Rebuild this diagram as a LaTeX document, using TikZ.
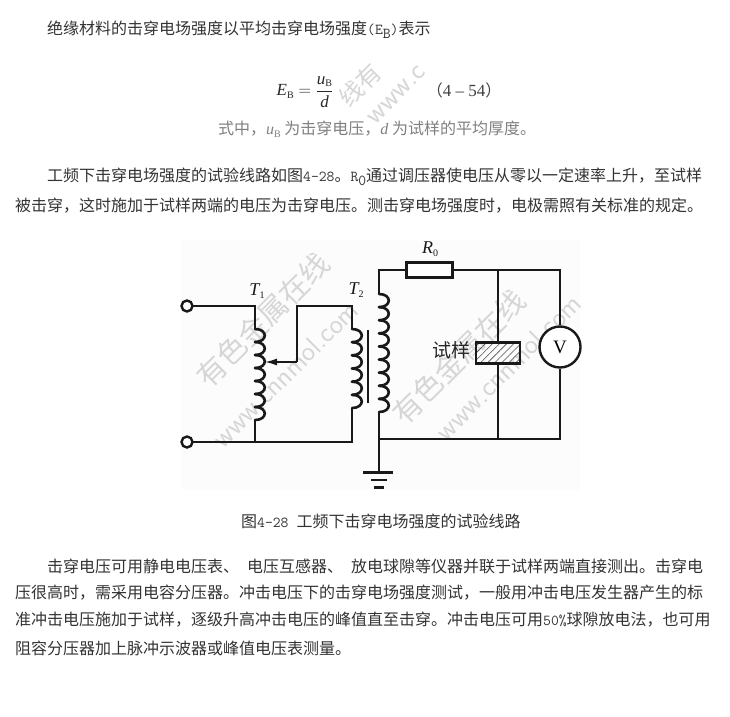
\documentclass[tikz,border=0pt]{standalone}
\usepackage[no-math]{fontspec}
\setmainfont{Noto Sans CJK SC}
\newfontfamily\serfont{Liberation Serif}
\usepackage{amsmath}
\usetikzlibrary{arrows.meta,patterns.meta}
\newcommand{\lat}[1]{{\fontsize{15.2}{18}\selectfont\ttfamily #1}}
\newcommand{\latsub}[1]{\raisebox{-4pt}{\lat{#1}}}
\newcommand{\ital}[1]{\mbox{\serfont\itshape #1}}
\newcommand{\ersub}[1]{\raisebox{-2.5pt}{\fontsize{10}{10}\selectfont\serfont\upshape #1}}
\begin{document}
\begin{tikzpicture}[
		x=1pt, y=-1pt,
		txt/.style={
				anchor=west,
				inner sep=0pt,
				text=black!80,
				font=\fontsize{16}{18}\selectfont,
			},
		faint/.style={
				txt,
				text=black!50,
			},
		mark/.style={
				inner sep=0pt,
				text=black!16,
				font=\fontsize{#1}{#1}\selectfont,
			},
		wire/.style={
				line width=1.6pt,
				black!90,
				line join=miter,
			},
		coilline/.style={
				line width=2.6pt,
				black!90,
				line cap=round,
			},
		bar/.style={
				line width=2.6pt,
				black!90,
			},
		termin/.style={
				circle,
				draw=black!90,
				line width=2.4pt,
				fill=white,
				inner sep=0pt,
				minimum size=11pt,
				outer sep=0pt,
			},
		lab/.style={
				inner sep=0pt,
				text=black!90,
				font=\fontsize{18}{18}\selectfont\serfont\itshape,
			},
	]
	\useasboundingbox (0,0) rectangle (730,716);
	\fill[white] (0,0) rectangle (730,716);
	\fill[black!1] (182,240) rectangle (580,490);

	\node[mark=29, rotate=45] (markA) at (263,320) {有色金属在线};
	\node[mark=28, rotate=45] (markB) at (285,374) {\sffamily www.cnnmol.com};
	\node[mark=29, rotate=45] (markC) at (459,357) {有色金属在线};
	\node[mark=28, rotate=45] (markD) at (508,367) {\sffamily www.cnnmol.com};
	\node[mark=24, rotate=45] (markE) at (360,85) {线有};
	\node[mark=28, rotate=45] (markF) at (397,95) {\sffamily www.c};

	\node[txt] (lineA) at (47,30) {绝缘材料的击穿电场强度以平均击穿电场强度\lat{(E}\latsub{B}\lat{)}表示};
	\node[inner sep=0pt, text=black!85] (formula) at (305,92) {\fontsize{17}{18}\selectfont$\displaystyle \ital{E}\ersub{B}=\frac{\ital{u}\ersub{B}}{\ital{d}}$};
	\node[inner sep=0pt, text=black!75, font=\fontsize{16}{18}\selectfont] (number) at (464,90) {（{\serfont\fontsize{17}{18}\selectfont 4 – 54}）};
	\node[faint] (where) at (218,129) {式中，\ital{u}\ersub{B} 为击穿电压，\ital{d} 为试样的平均厚度。};
	\node[txt] (lineB) at (47,177) {工频下击穿电场强度的试验线路如图\lat{4-28}。\lat{R}\latsub{0}通过调压器使电压从零以一定速率上升，至试样};
	\node[txt] (lineC) at (15,206) {被击穿，这时施加于试样两端的电压为击穿电压。测击穿电场强度时，电极需照有关标准的规定。};
	\node[txt] (caption) at (241,521) {图\lat{4-28}\hspace{8pt}工频下击穿电场强度的试验线路};
	\node[txt] (lineD) at (47,566) {击穿电压可用静电电压表、\hspace{8pt}电压互感器、\hspace{8pt}放电球隙等仪器并联于试样两端直接测出。击穿电};
	\node[txt] (lineE) at (15,593) {压很高时，需采用电容分压器。冲击电压下的击穿电场强度测试，一般用冲击电压发生器产生的标};
	\node[txt] (lineF) at (15,620) {准冲击电压施加于试样，逐级升高冲击电压的峰值直至击穿。冲击电压可用\lat{50\%}球隙放电法，也可用};
	\node[txt] (lineG) at (15,648) {阻容分压器加上脉冲示波器或峰值电压表测量。};

	\node[termin] (inA) at (187,306) {};
	\node[termin] (inB) at (187,442) {};
	\node[lab] (T1) at (257,291) {T\ersub{1}};
	\node[lab] (T2) at (356,290) {T\ersub{2}};
	\node[lab] (R0) at (430,249) {R\ersub{0}};
	\node[draw=black!90, line width=2.4pt, fill=white, minimum width=46pt, minimum height=15pt, inner sep=0pt] (resist) at (429.5,270) {};
	\node[draw=black!90, line width=2.4pt, fill=white, circle, minimum size=41pt, inner sep=0pt, font=\fontsize{19}{19}\selectfont\serfont] (volt) at (560,347) {V};
	\node[draw=black!90, line width=2.4pt, pattern={Lines[angle=45,distance=5pt,line width=.6pt]}, pattern color=black!70, minimum width=44pt, minimum height=21pt, inner sep=0pt] (sample) at (498,353) {};
	\node[inner sep=0pt, text=black!85, font=\fontsize{19}{20}\selectfont] (samplelab) at (451,350) {试样};

	\coordinate (Atop) at (255,306);
	\coordinate (Abot) at (255,442);
	\coordinate (Acoiltop) at (255,329);
	\coordinate (Acoilbot) at (255,420);
	\coordinate (Wtip) at (265,362);
	\coordinate (Wknee) at (297,362);
	\coordinate (Wup) at (297,306);
	\coordinate (Btop) at (352,306);
	\coordinate (Bbot) at (352,442);
	\coordinate (Bcoiltop) at (352,329);
	\coordinate (Bcoilbot) at (352,408);
	\coordinate (Ctop) at (379,270);
	\coordinate (Ccoiltop) at (379,294);
	\coordinate (Ccoilbot) at (379,412);
	\coordinate (Cbot) at (379,439);
	\coordinate (Gnd) at (379,472);
	\coordinate (Stop) at (498,270);
	\coordinate (Sbot) at (498,439);
	\coordinate (Vtop) at (560,270);
	\coordinate (Vbot) at (560,439);

	\draw[wire] (inA) -- (Atop) -- (Acoiltop);
	\draw[wire] (inB) -- (Abot) -- (Bbot) -- (Bcoilbot);
	\draw[wire] (Abot) -- (Acoilbot);
	\draw[wire] (Wknee) -- (Wup) -- (Btop) -- (Bcoiltop);
	\draw[wire, -{Latex[length=12pt,width=7pt]}] (Wknee) -- (Wtip);
	\draw[wire] (Ccoiltop) -- (Ctop) -- (resist);
	\draw[wire] (resist) -- (Stop) -- (Vtop) -- (volt);
	\draw[wire] (Stop) -- (sample);
	\draw[wire] (sample) -- (Sbot);
	\draw[wire] (volt) -- (Vbot) -- (Cbot);
	\draw[wire] (Ccoilbot) -- (Gnd);

	\foreach \i in {0,...,6}
		\draw[coilline] (255,329+13*\i) .. controls (268,329+13*\i) and (268,342+13*\i) .. (255,342+13*\i);
	\foreach \i in {0,...,5}
		\draw[coilline] (352,329+13.17*\i) .. controls (365,329+13.17*\i) and (365,342.17+13.17*\i) .. (352,342.17+13.17*\i);
	\foreach \i in {0,...,8}
		\draw[coilline] (379,294+13.11*\i) .. controls (392,294+13.11*\i) and (392,307.11+13.11*\i) .. (379,307.11+13.11*\i);

	\coordinate (coreA) at (368,330);
	\coordinate (coreB) at (368,403);
	\draw[bar] (coreA) -- (coreB);
	\coordinate (gndAl) at (363,472.5);
	\coordinate (gndAr) at (393,472.5);
	\coordinate (gndBl) at (371,480);
	\coordinate (gndBr) at (387,480);
	\coordinate (gndCl) at (373.5,487.5);
	\coordinate (gndCr) at (384,487.5);
	\draw[bar] (gndAl) -- (gndAr);
	\draw[bar] (gndBl) -- (gndBr);
	\draw[bar] (gndCl) -- (gndCr);
\end{tikzpicture}
\end{document}
